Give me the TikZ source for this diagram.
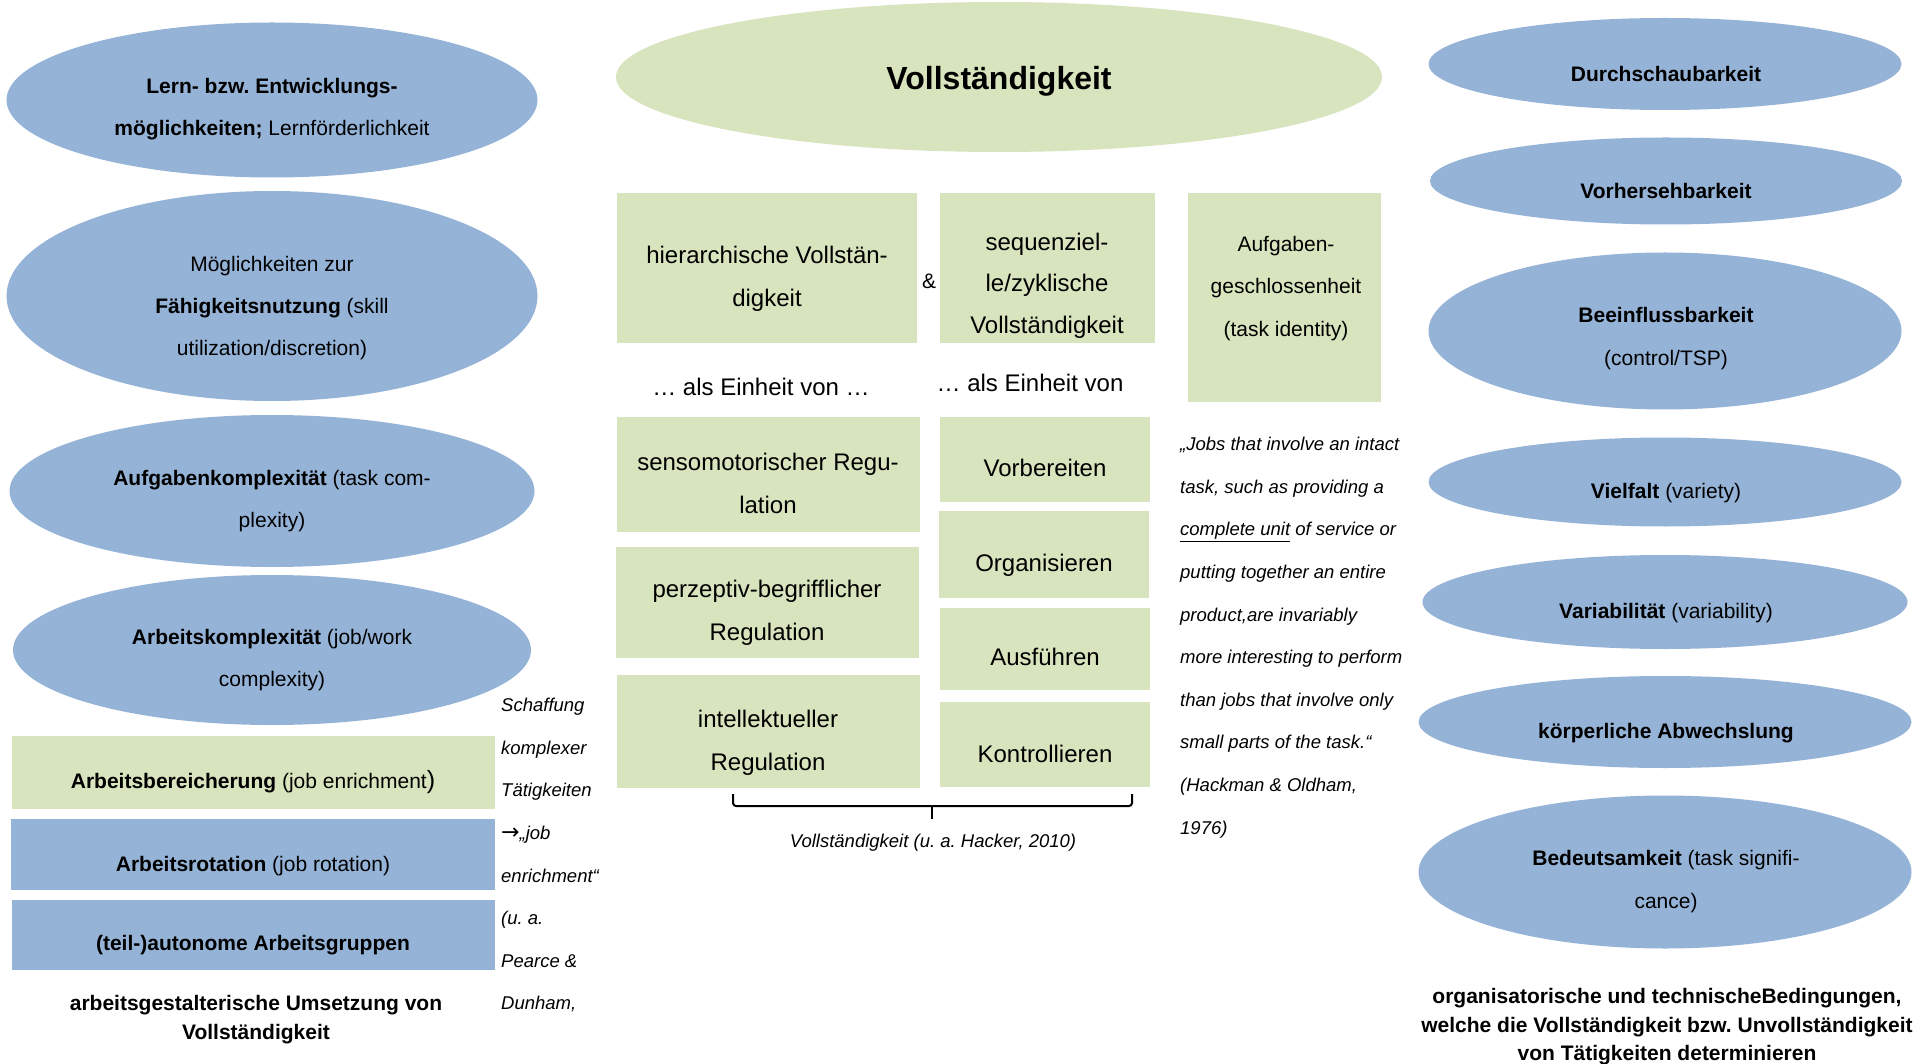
\documentclass[tikz,border=0pt]{standalone}
\usepackage{fontspec}
\setmainfont{Liberation Sans}
\newfontfamily\arrowfont{DejaVu Sans}
\usetikzlibrary{shapes.geometric}
\definecolor{eblue}{HTML}{95B3D7}
\definecolor{egreen}{HTML}{D7E4BD}
\frenchspacing
\begin{document}
\frenchspacing
\begin{tikzpicture}[x=1pt,y=-1pt,
  ell/.style={ellipse,fill=eblue,draw=none,inner sep=0pt},
  gell/.style={ellipse,fill=egreen,draw=none,inner sep=0pt},
  gbox/.style={rectangle,fill=egreen,draw=none,inner sep=0pt},
  bbox/.style={rectangle,fill=eblue,draw=none,inner sep=0pt},
  txt/.style={align=center,inner sep=0pt,yshift=-2.5pt,font=\fontsize{21}{42}\selectfont},
  rtxt/.style={align=center,inner sep=0pt,yshift=-2pt,font=\fontsize{21}{43}\selectfont},
  mtxt/.style={align=center,inner sep=0pt,yshift=-2.5pt,font=\fontsize{24}{43}\selectfont},
  qtxt/.style={align=left,inner sep=0pt,yshift=-1.5pt,font=\fontsize{18.5}{42.6}\selectfont\itshape},
  ctxt/.style={align=center,inner sep=0pt,yshift=-4pt,font=\fontsize{21}{28.5}\selectfont\bfseries},
  brace/.style={line width=2pt,black},
]
\useasboundingbox (0,0) rectangle (1923,1064);
\fill[white] (0,0) rectangle (1923,1064);

% ---------- left column ----------
\node[ell,minimum width=531pt,minimum height=155pt] (e1) at (272,100) {};
\node[txt] (t1) at (272,107) {\textbf{Lern- bzw. Entwicklungs-}\\\textbf{möglichkeiten;} Lernförderlichkeit};
\node[ell,minimum width=531pt,minimum height=210pt] (e2) at (272,296) {};
\node[txt] (t2) at (272,306) {Möglichkeiten zur\\\textbf{Fähigkeitsnutzung} (skill\\utilization/discretion)};
\node[ell,minimum width=525pt,minimum height=152pt] (e3) at (272,491) {};
\node[txt] (t3) at (272,499) {\textbf{Aufgabenkomplexität} (task com-\\plexity)};
\node[ell,minimum width=518pt,minimum height=150pt] (e4) at (272,650) {};
\node[txt] (t4) at (272,658) {\textbf{Arbeitskomplexität} (job/work\\complexity)};

\node[gbox,minimum width=483pt,minimum height=73pt] (b1) at (253.5,772.5) {};
\node[txt] (tb1) at (253,780) {\textbf{Arbeitsbereicherung} (job enrichment{\fontsize{25}{25}\selectfont )}};
\node[bbox,minimum width=484pt,minimum height=71pt] (b2) at (253,854.5) {};
\node[txt] (tb2) at (253,864) {\textbf{Arbeitsrotation} (job rotation)};
\node[bbox,minimum width=483pt,minimum height=70pt] (b3) at (253.5,935) {};
\node[txt] (tb3) at (253,943) {\textbf{(teil-)autonome Arbeitsgruppen}};

\node[ctxt] (capL) at (256,1015.5) {arbeitsgestalterische Umsetzung von\\Vollständigkeit};

\node[qtxt,anchor=north west] (qL) at (501,696.5) {Schaffung\\komplexer\\Tätigkeiten\\{\upshape\arrowfont\fontsize{22}{22}\selectfont →}„job\\enrichment“\\(u. a.\\Pearce \&\\Dunham,};

% ---------- middle ----------
\node[gell,minimum width=766pt,minimum height=150pt] (vol) at (999,77) {};
\node[inner sep=0pt,yshift=-2.5pt,font=\fontsize{32}{38}\selectfont\bfseries] (tvol) at (999,79) {Vollständigkeit};

\node[gbox,minimum width=300pt,minimum height=150pt] (hier) at (767,268) {};
\node[mtxt] (thier) at (767,276) {hierarchische Vollstän-\\digkeit};
\node[inner sep=0pt,yshift=-2pt,font=\fontsize{21}{25}\selectfont] (amp) at (929,279) {\&};
\node[gbox,minimum width=215pt,minimum height=150pt] (seq) at (1047.5,268) {};
\node[align=center,inner sep=0pt,yshift=-2.5pt,font=\fontsize{24}{41.5}\selectfont] (tseq) at (1047,283) {sequenziel-\\le/zyklische\\Vollständigkeit};
\node[gbox,minimum width=193pt,minimum height=209pt] (aufg) at (1284.5,297.5) {};
\node[align=center,inner sep=0pt,yshift=-2.5pt,font=\fontsize{21}{42.5}\selectfont] (taufg) at (1286,286) {Aufgaben-\\geschlossenheit\\(task identity)};

\node[mtxt,yshift=2.5pt] (einh1) at (761,387) {… als Einheit von …};
\node[mtxt,yshift=2.5pt] (einh2) at (1030,383) {… als Einheit von};

\node[gbox,minimum width=303pt,minimum height=115pt] (senso) at (768.5,474.5) {};
\node[mtxt] (tsenso) at (768,480.5) {sensomotorischer Regu-\\lation};
\node[gbox,minimum width=303pt,minimum height=111pt] (perz) at (767.5,602.5) {};
\node[mtxt] (tperz) at (767,610.5) {perzeptiv-begrifflicher\\Regulation};
\node[gbox,minimum width=303pt,minimum height=113pt] (intel) at (768.5,731.5) {};
\node[mtxt] (tintel) at (768,740.5) {intellektueller\\Regulation};

\node[gbox,minimum width=210pt,minimum height=85pt] (vorb) at (1045,459.5) {};
\node[mtxt] (tvorb) at (1045,465) {Vorbereiten};
\node[gbox,minimum width=210pt,minimum height=87pt] (orga) at (1044,554.5) {};
\node[mtxt] (torga) at (1044,563) {Organisieren};
\node[gbox,minimum width=210pt,minimum height=82pt] (ausf) at (1045,649) {};
\node[mtxt] (tausf) at (1045,654) {Ausführen};
\node[gbox,minimum width=210pt,minimum height=85pt] (kontr) at (1045,744.5) {};
\node[mtxt] (tkontr) at (1045,751) {Kontrollieren};

\coordinate (brL) at (733,794);
\coordinate (brR) at (1132,794);
\coordinate (brM) at (932,806);
\coordinate (brT) at (932,819);
\draw[brace,rounded corners=3pt] (brL) -- (brL |- brM) -- (brR |- brM) -- (brR);
\draw[brace] (brM) -- (brT);
\node[inner sep=0pt,yshift=-2.5pt,font=\fontsize{18.5}{22}\selectfont\itshape] (hacker) at (933,840) {Vollständigkeit (u. a. Hacker, 2010)};

\node[qtxt,anchor=north west] (qR) at (1180,435.5) {„Jobs that involve an intact\\task, such as providing a\\\underline{complete unit} of service or\\putting together an entire\\product,are invariably\\more interesting to perform\\than jobs that involve only\\small parts of the task.“\\(Hackman \& Oldham,\\1976)};

% ---------- right column ----------
\node[ell,minimum width=473pt,minimum height=92pt] (r1) at (1665,64) {};
\node[rtxt] (tr1) at (1666,72) {\textbf{Durchschaubarkeit}};
\node[ell,minimum width=472pt,minimum height=87pt] (r2) at (1666,181) {};
\node[rtxt] (tr2) at (1666,189) {\textbf{Vorhersehbarkeit}};
\node[ell,minimum width=473pt,minimum height=157pt] (r3) at (1665,331) {};
\node[rtxt] (tr3) at (1666,337) {\textbf{Beeinflussbarkeit}\\(control/TSP)};
\node[ell,minimum width=473pt,minimum height=89pt] (r4) at (1665,482) {};
\node[rtxt] (tr4) at (1666,491) {\textbf{Vielfalt} (variety)};
\node[ell,minimum width=485pt,minimum height=94pt] (r5) at (1665,602) {};
\node[rtxt] (tr5) at (1666,611) {\textbf{Variabilität} (variability)};
\node[ell,minimum width=493pt,minimum height=92pt] (r6) at (1665,722) {};
\node[rtxt] (tr6) at (1666,731) {\textbf{körperliche Abwechslung}};
\node[ell,minimum width=493pt,minimum height=153pt] (r7) at (1665,872) {};
\node[rtxt] (tr7) at (1666,880) {\textbf{Bedeutsamkeit} (task signifi-\\cance)};

\node[ctxt] (capR) at (1667,1023) {organisatorische und technischeBedingungen,\\welche die Vollständigkeit bzw. Unvollständigkeit\\von Tätigkeiten determinieren};
\end{tikzpicture}
\end{document}
